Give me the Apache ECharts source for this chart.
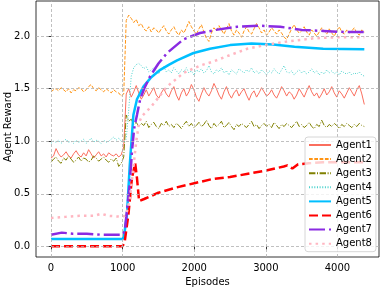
<!DOCTYPE html>
<html><head><meta charset="utf-8">
<script src="https://cdn.jsdelivr.net/npm/echarts@6/dist/echarts.min.js"></script>
<style>html,body{margin:0;padding:0;background:#fff}#c{width:382px;height:288px}</style>
</head><body><div id="c"></div>
<script>
// ---- data ----
const xTicks = [0, 1000, 2000, 3000, 4000];
const yTicks = [0.0, 0.5, 1.0, 1.5, 2.0];
const STEP = 35; // episodes between samples of the noisy curves
const agent1 = [0.84,0.86,0.93,0.88,0.85,0.87,0.90,0.86,0.84,0.88,0.91,0.87,0.85,0.89,0.86,0.92,0.88,0.84,0.87,0.90,0.86,0.88,0.85,0.89,0.87,0.86,0.88,0.85,0.87,0.95,
1.45,1.50,1.42,1.47,1.53,1.46,1.40,1.44,1.49,1.43,
1.47,1.51,1.44,1.41,1.46,1.50,1.45,1.42,1.48,1.52,
1.44,1.39,1.46,1.50,1.43,1.47,1.54,1.49,1.42,1.38,
1.45,1.51,1.46,1.43,1.48,1.55,1.50,1.44,1.40,1.47,
1.52,1.45,1.41,1.46,1.49,1.43,1.47,1.50,1.44,1.39,
1.45,1.48,1.42,1.46,1.51,1.47,1.43,1.45,1.49,1.44,
1.41,1.46,1.52,1.48,1.43,1.47,1.45,1.40,1.44,1.50,
1.46,1.42,1.48,1.53,1.47,1.43,1.46,1.41,1.45,1.50,
1.44,1.47,1.52,1.46,1.42,1.48,1.45,1.41,1.46,1.51,
1.47,1.43,1.49,1.53,1.45,1.35];
const agent2 = [1.47,1.49,1.50,1.48,1.51,1.49,1.47,1.50,1.46,1.49,1.48,1.51,1.50,1.47,1.49,1.52,1.54,1.50,1.48,1.51,1.49,1.47,1.50,1.48,1.46,1.49,1.47,1.46,1.43,1.45,
2.15,2.20,2.17,2.13,2.16,2.10,2.12,2.07,2.05,2.09,
2.04,2.08,2.06,2.03,2.07,2.10,2.05,2.02,2.06,2.09,
2.04,2.01,2.06,2.03,2.08,2.14,2.09,2.05,2.02,2.07,
2.11,2.04,1.98,1.95,2.03,2.08,2.05,2.10,2.06,2.02,
2.07,2.12,2.05,2.01,2.06,2.03,1.99,2.05,2.09,2.04,
2.02,2.07,2.12,2.08,2.03,2.06,2.01,2.04,2.08,2.05,
2.02,2.06,2.03,1.99,1.97,2.02,2.07,2.11,2.06,2.03,
2.05,2.09,2.04,2.01,2.06,2.03,2.00,2.04,2.08,2.05,
2.02,2.07,2.03,2.00,2.05,2.09,2.04,2.02,2.06,2.03,
2.05,2.08,2.03,2.01,2.06,2.04];
const agent3 = [0.80,0.83,0.85,0.81,0.79,0.84,0.82,0.86,0.83,0.80,0.82,0.85,0.81,0.84,0.83,0.80,0.82,0.86,0.84,0.81,0.83,0.85,0.82,0.80,0.83,0.81,0.84,0.76,0.79,0.85,
1.25,1.19,1.21,1.16,1.18,1.14,1.17,1.15,1.19,1.13,
1.16,1.18,1.14,1.12,1.17,1.15,1.19,1.14,1.16,1.13,
1.17,1.15,1.12,1.16,1.19,1.14,1.17,1.13,1.15,1.18,
1.14,1.16,1.20,1.15,1.12,1.17,1.14,1.16,1.19,1.13,
1.15,1.18,1.14,1.11,1.16,1.14,1.17,1.15,1.13,1.16,
1.19,1.14,1.16,1.12,1.15,1.17,1.14,1.16,1.13,1.18,
1.15,1.12,1.16,1.14,1.17,1.15,1.13,1.16,1.19,1.14,
1.16,1.13,1.15,1.18,1.14,1.12,1.16,1.14,1.20,1.15,
1.13,1.16,1.14,1.17,1.15,1.12,1.16,1.14,1.17,1.15,
1.13,1.16,1.14,1.17,1.15,1.14];
const agent4 = [0.98,1.00,0.99,1.01,0.98,1.00,1.02,0.99,1.00,0.98,1.01,0.99,1.00,1.02,0.98,1.00,1.03,0.99,1.01,1.00,0.98,1.01,0.99,1.00,1.02,1.04,1.01,1.03,1.00,0.99,
1.02,1.30,1.62,1.70,1.73,1.74,1.72,1.69,1.71,1.66,
1.68,1.70,1.67,1.64,1.69,1.71,1.66,1.68,1.65,1.70,
1.67,1.64,1.68,1.66,1.70,1.65,1.67,1.63,1.68,1.66,
1.69,1.65,1.67,1.72,1.66,1.64,1.68,1.66,1.70,1.65,
1.67,1.63,1.68,1.66,1.64,1.69,1.67,1.65,1.68,1.66,
1.70,1.65,1.67,1.64,1.68,1.66,1.63,1.67,1.65,1.69,
1.66,1.64,1.68,1.72,1.66,1.65,1.67,1.63,1.66,1.68,
1.65,1.67,1.64,1.66,1.69,1.65,1.67,1.63,1.66,1.64,
1.68,1.65,1.67,1.64,1.66,1.63,1.67,1.65,1.64,1.66,
1.63,1.65,1.64,1.66,1.63,1.62];
const agent5X = [0,500,1000,1020,1060,1100,1150,1200,1290,1400,1525,1650,1760,1990,2220,2500,2800,3100,3400,3800,4375];
const agent5Y = [0.07,0.07,0.07,0.10,0.30,0.78,1.25,1.40,1.52,1.61,1.68,1.73,1.77,1.84,1.88,1.915,1.93,1.92,1.90,1.88,1.875];
const agent6X = [0,1000,1030,1080,1130,1175,1200,1230,1300,1500,1750,2000,2250,2500,2750,3000,3250,3300,3370,3450,3600,3800,4000,4200,4375];
const agent6Y = [0.0,0.0,0.05,0.30,0.65,0.79,0.65,0.43,0.45,0.51,0.56,0.60,0.64,0.66,0.69,0.72,0.76,0.77,0.74,0.78,0.79,0.80,0.80,0.80,0.80];
const agent7X = [0,150,300,500,700,1000,1030,1070,1100,1130,1160,1200,1245,1300,1385,1500,1620,1850,2080,2300,2600,2900,3200,3500,3800,4100,4375];
const agent7Y = [0.11,0.13,0.12,0.12,0.11,0.11,0.15,0.40,0.60,0.90,1.12,1.25,1.40,1.50,1.62,1.74,1.84,1.97,2.03,2.06,2.09,2.10,2.09,2.06,2.05,2.04,2.04];
const agent8X = [0,200,400,600,700,800,1000,1050,1100,1150,1190,1230,1270,1400,1620,1850,2080,2270,2500,2740,3020,3300,3670,4000,4375];
const agent8Y = [0.27,0.28,0.29,0.29,0.31,0.29,0.28,0.30,0.45,0.75,1.00,1.18,1.24,1.33,1.52,1.65,1.72,1.76,1.82,1.88,1.92,1.95,1.98,1.99,1.99];
const names = ['Agent1','Agent2','Agent3','Agent4','Agent5','Agent6','Agent7','Agent8'];

// ---- build ----
const noisy = (arr) => arr.map((v, i) => [i * STEP, v]);
const zip = (xs, ys) => xs.map((x, i) => [x, ys[i]]);
const FONT = 'DejaVu Sans';
function line(name, data, color, width, type) {
  return { name, type: 'line', data, symbol: 'none', showSymbol: false, animation: false,
    lineStyle: { color, width, type, cap: 'butt' }, itemStyle: { color }, z: 3 };
}
const gridLines = {
  type: 'line', data: [], silent: true, z: 1,
  markLine: { silent: true, symbol: 'none', animation: false, label: { show: false },
    lineStyle: { color: '#b0b0b0', width: 0.8, type: [3, 2] },
    data: xTicks.map(v => ({ xAxis: v })).concat(yTicks.map(v => ({ yAxis: v }))) }
};
const series = [
  gridLines,
  line('Agent1', noisy(agent1), '#FA6E5E', 1, 'solid'),
  line('Agent2', noisy(agent2), '#FF9414', 1, [3.7, 1.6]),
  line('Agent3', noisy(agent3), '#808000', 1, [6.4, 1.6, 1, 1.6]),
  line('Agent4', noisy(agent4), '#48D1CC', 1, [1, 1.65]),
  line('Agent5', zip(agent5X, agent5Y), '#00BFFF', 2.5, 'solid'),
  line('Agent6', zip(agent6X, agent6Y), '#FF0000', 2.5, [9, 4]),
  line('Agent7', zip(agent7X, agent7Y), '#8A2BE2', 2.5, [16, 4, 2.5, 4]),
  line('Agent8', zip(agent8X, agent8Y), '#FFB6C1', 2.5, [2.5, 4.1])
];
const chart = echarts.init(document.getElementById('c'), null, { renderer: 'canvas' });
chart.setOption({
  animation: false,
  textStyle: { fontFamily: FONT },
  grid: { left: 36, right: 3, top: 1, bottom: 31, containLabel: false, outerBoundsMode: 'none',
    show: true, borderColor: '#000', borderWidth: 0.8, backgroundColor: 'transparent' },
  xAxis: {
    type: 'value', min: -210, max: 4580,
    name: 'Episodes', nameLocation: 'middle', nameGap: 18,
    nameTextStyle: { fontFamily: FONT, fontSize: 10, color: '#000' },
    axisLine: { show: false },
    axisTick: { show: true, length: 3.5, lineStyle: { color: '#000', width: 0.8 }, customValues: xTicks },
    axisLabel: { customValues: xTicks, fontFamily: FONT, fontSize: 10, color: '#000', margin: 6,
      formatter: v => String(Math.round(v)) },
    splitLine: { show: false }
  },
  yAxis: {
    type: 'value', min: -0.102, max: 2.335,
    axisLine: { show: false },
    axisTick: { show: true, length: 3.5, lineStyle: { color: '#000', width: 0.8 }, customValues: yTicks },
    axisLabel: { customValues: yTicks, fontFamily: FONT, fontSize: 10, color: '#000', margin: 6,
      formatter: v => Number(v).toFixed(1) },
    splitLine: { show: false }
  },
  graphic: [{
    type: 'text', x: 8, y: 127, rotation: Math.PI / 2, silent: true,
    style: { text: 'Agent Reward', fontFamily: FONT, fontSize: 10, fill: '#000', align: 'center', verticalAlign: 'middle' }
  }],
  legend: {
    data: names, orient: 'vertical', left: 305, top: 137,
    padding: [2, 4, 2, 3], itemWidth: 22, itemHeight: 10, itemGap: 2.1,
    itemStyle: { opacity: 0 },
    backgroundColor: 'rgba(255,255,255,0.8)', borderColor: '#cccccc', borderWidth: 0.8, borderRadius: 3,
    textStyle: { fontFamily: FONT, fontSize: 10, color: '#000', lineHeight: 12 },
    z: 10
  },
  series
});
</script></body></html>
